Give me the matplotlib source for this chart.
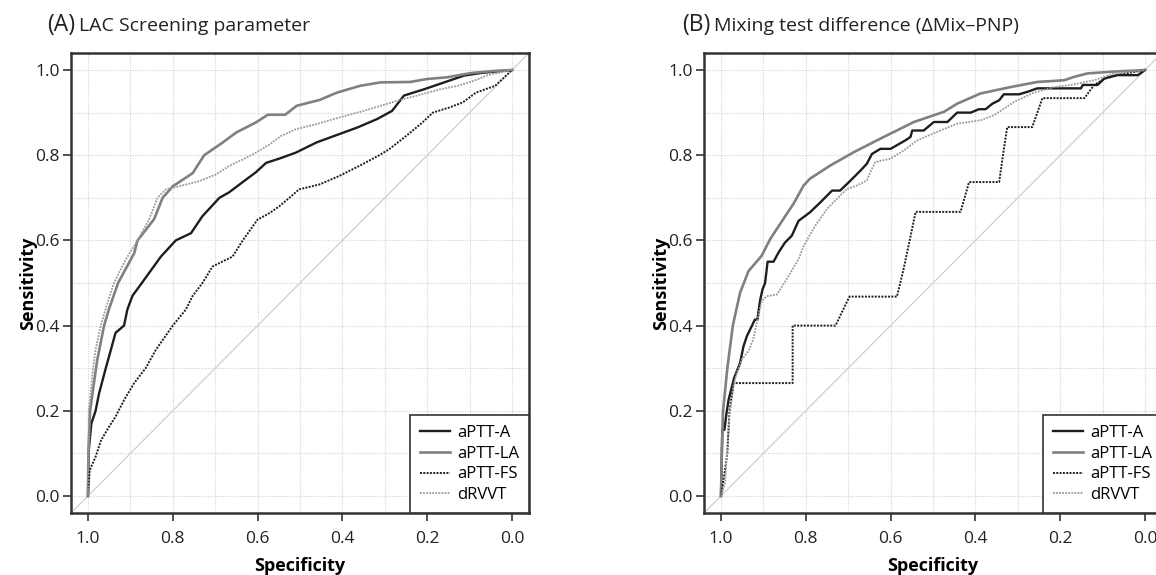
import numpy as np
import matplotlib
matplotlib.use("Agg")
import matplotlib.pyplot as plt

plt.rcParams["font.family"] = ["Open Sans", "DejaVu Sans"]

# ---------------------------------------------------------------------------
# ROC curves: (specificity, sensitivity)
# ---------------------------------------------------------------------------

# Panel A -- LAC screening parameter
a_aptt_a_spec = [1.0, 0.998, 0.992, 0.982, 0.974, 0.958, 0.946, 0.935, 0.915, 0.907, 0.895, 0.873,
                 0.828, 0.793, 0.757, 0.73, 0.69, 0.667, 0.635, 0.604, 0.58, 0.549, 0.51, 0.461,
                 0.42, 0.365, 0.318, 0.283, 0.255, 0.207, 0.16, 0.113, 0.074, 0.0]
a_aptt_a_sens = [0.0, 0.108, 0.17, 0.2, 0.24, 0.3, 0.343, 0.383, 0.4, 0.438, 0.47, 0.5,
                 0.562, 0.6, 0.617, 0.657, 0.7, 0.713, 0.737, 0.76, 0.782, 0.792, 0.806, 0.83,
                 0.845, 0.865, 0.885, 0.904, 0.94, 0.955, 0.971, 0.987, 0.993, 1.0]

a_aptt_la_spec = [1.0, 0.999, 0.995, 0.986, 0.978, 0.962, 0.95, 0.929, 0.891, 0.883, 0.844, 0.824,
                  0.80, 0.753, 0.726, 0.682, 0.651, 0.604, 0.576, 0.545, 0.535, 0.508, 0.453,
                  0.413, 0.358, 0.31, 0.24, 0.2, 0.153, 0.096, 0.04, 0.0]
a_aptt_la_sens = [0.0, 0.1, 0.2, 0.265, 0.32, 0.4, 0.44, 0.5, 0.57, 0.6, 0.65, 0.7,
                  0.727, 0.758, 0.8, 0.83, 0.853, 0.877, 0.895, 0.895, 0.895, 0.916, 0.93,
                  0.947, 0.963, 0.971, 0.972, 0.979, 0.983, 0.993, 0.998, 1.0]

a_aptt_fs_spec = [1.0, 0.996, 0.982, 0.969, 0.95, 0.935, 0.915, 0.891, 0.864, 0.84, 0.8, 0.769,
                  0.753, 0.73, 0.706, 0.659, 0.635, 0.6, 0.572, 0.549, 0.525, 0.502, 0.455,
                  0.408, 0.36, 0.313, 0.29, 0.25, 0.211, 0.187, 0.148, 0.116, 0.085, 0.04, 0.0]
a_aptt_fs_sens = [0.0, 0.06, 0.092, 0.131, 0.163, 0.186, 0.225, 0.265, 0.3, 0.343, 0.4, 0.438,
                  0.47, 0.5, 0.539, 0.562, 0.6, 0.649, 0.664, 0.68, 0.7, 0.72, 0.731,
                  0.751, 0.775, 0.8, 0.814, 0.845, 0.877, 0.9, 0.912, 0.924, 0.947, 0.963, 1.0]

a_drvvt_spec = [1.0, 0.998, 0.988, 0.982, 0.97, 0.954, 0.939, 0.911, 0.883, 0.856, 0.836, 0.816,
                0.785, 0.738, 0.698, 0.667, 0.635, 0.604, 0.572, 0.545, 0.51, 0.461, 0.406,
                0.35, 0.31, 0.271, 0.224, 0.168, 0.128, 0.089, 0.057, 0.0]
a_drvvt_sens = [0.0, 0.2, 0.3, 0.343, 0.4, 0.453, 0.5, 0.555, 0.6, 0.649, 0.7, 0.72,
                0.727, 0.739, 0.755, 0.775, 0.79, 0.806, 0.825, 0.845, 0.861, 0.873, 0.889,
                0.904, 0.916, 0.928, 0.94, 0.955, 0.963, 0.975, 0.988, 1.0]

# Panel B -- mixing test difference
b_aptt_a_spec = [1.0, 0.998, 0.997, 0.992, 0.987, 0.982, 0.969, 0.955, 0.947, 0.939, 0.920, 0.914,
                 0.908, 0.902, 0.896, 0.890, 0.876, 0.864, 0.849, 0.833, 0.817, 0.790, 0.766,
                 0.738, 0.719, 0.695, 0.671, 0.656, 0.644, 0.624, 0.600, 0.565, 0.553, 0.549,
                 0.522, 0.498, 0.466, 0.443, 0.411, 0.392, 0.376, 0.360, 0.344, 0.333, 0.297,
                 0.277, 0.254, 0.151, 0.147, 0.112, 0.096, 0.065, 0.017, 0.0]
b_aptt_a_sens = [0.0, 0.096, 0.155, 0.155, 0.194, 0.226, 0.277, 0.312, 0.351, 0.375, 0.414, 0.414,
                 0.458, 0.485, 0.5, 0.55, 0.55, 0.572, 0.595, 0.611, 0.646, 0.666, 0.689,
                 0.717, 0.717, 0.74, 0.764, 0.78, 0.803, 0.815, 0.815, 0.835, 0.843, 0.858,
                 0.858, 0.878, 0.878, 0.9, 0.9, 0.908, 0.908, 0.921, 0.929, 0.943, 0.943,
                 0.949, 0.957, 0.957, 0.965, 0.965, 0.98, 0.988, 0.988, 1.0]

b_aptt_la_spec = [1.0, 0.998, 0.995, 0.985, 0.972, 0.955, 0.935, 0.904, 0.884, 0.853, 0.829, 0.805,
                  0.79, 0.742, 0.687, 0.624, 0.545, 0.474, 0.443, 0.388, 0.317, 0.254, 0.191,
                  0.167, 0.136, 0.08, 0.0]
b_aptt_la_sens = [0.0, 0.1, 0.2, 0.3, 0.4, 0.477, 0.528, 0.564, 0.603, 0.65, 0.686, 0.729,
                  0.745, 0.776, 0.807, 0.839, 0.878, 0.902, 0.921, 0.945, 0.96, 0.972, 0.976,
                  0.984, 0.992, 0.996, 1.0]

b_aptt_fs_spec = [1.0, 0.995, 0.985, 0.98, 0.97, 0.831, 0.831, 0.73, 0.697, 0.585, 0.57, 0.555,
                  0.541, 0.435, 0.415, 0.344, 0.335, 0.325, 0.266, 0.242, 0.143, 0.12, 0.088, 0.0]
b_aptt_fs_sens = [0.0, 0.03, 0.1, 0.2, 0.265, 0.265, 0.4, 0.4, 0.468, 0.468, 0.53, 0.6,
                  0.667, 0.667, 0.737, 0.737, 0.8, 0.866, 0.866, 0.934, 0.934, 0.965, 0.984, 1.0]

b_drvvt_spec = [1.0, 0.99, 0.986, 0.979, 0.971, 0.963, 0.951, 0.935, 0.924, 0.912, 0.904, 0.892,
                0.868, 0.845, 0.817, 0.805, 0.778, 0.75, 0.727, 0.703, 0.679, 0.656, 0.648,
                0.636, 0.6, 0.569, 0.537, 0.49, 0.443, 0.388, 0.356, 0.309, 0.262, 0.214,
                0.175, 0.12, 0.073, 0.0]
b_drvvt_sens = [0.0, 0.03, 0.1, 0.194, 0.257, 0.289, 0.32, 0.34, 0.367, 0.422, 0.458, 0.469,
                0.473, 0.509, 0.556, 0.587, 0.634, 0.674, 0.697, 0.721, 0.729, 0.741, 0.76,
                0.784, 0.792, 0.811, 0.835, 0.855, 0.874, 0.882, 0.894, 0.925, 0.947, 0.96,
                0.965, 0.976, 0.992, 1.0]

labels = ["aPTT-A", "aPTT-LA", "aPTT-FS", "dRVVT"]
ticks = [1.0, 0.8, 0.6, 0.4, 0.2, 0.0]

STYLES = {
    "aPTT-A":  dict(color="#1e1e1e", lw=1.7, ls="-"),
    "aPTT-LA": dict(color="#808080", lw=1.9, ls="-"),
    "aPTT-FS": dict(color="#1e1e1e", lw=1.4, ls=(0, (1, 0.7))),
    "dRVVT":   dict(color="#9a9a9a", lw=1.3, ls=(0, (1, 0.7))),
}
SPINE = "#333333"

# ---------------------------------------------------------------------------
# Figure
# ---------------------------------------------------------------------------

W, H = 1156, 575
fig = plt.figure(figsize=(W / 100, H / 100), dpi=100)

ax_a = fig.add_axes([71 / W, (H - 513) / H, 458 / W, 460 / H])
ax_b = fig.add_axes([704 / W, (H - 513) / H, 458 / W, 460 / H])

panels = [
    (ax_a, [(a_aptt_a_spec, a_aptt_a_sens), (a_aptt_la_spec, a_aptt_la_sens),
            (a_aptt_fs_spec, a_aptt_fs_sens), (a_drvvt_spec, a_drvvt_sens)]),
    (ax_b, [(b_aptt_a_spec, b_aptt_a_sens), (b_aptt_la_spec, b_aptt_la_sens),
            (b_aptt_fs_spec, b_aptt_fs_sens), (b_drvvt_spec, b_drvvt_sens)]),
]

for ax, curves in panels:
    ax.set_xlim(1.04, -0.04)
    ax.set_ylim(-0.04, 1.04)

    # dotted grid every 0.1, chance diagonal
    for v in np.arange(0, 1.01, 0.1):
        ax.axvline(v, color="#d4d4d4", lw=0.8, ls=(0, (1, 1.2)), zorder=0)
        ax.axhline(v, color="#d4d4d4", lw=0.8, ls=(0, (1, 1.2)), zorder=0)
    ax.plot([1.1, -0.1], [-0.1, 1.1], color="#cfcfcf", lw=0.9, zorder=1)

    for name, (sp, se) in zip(labels, curves):
        ax.plot(sp, se, label=name, zorder=3, **STYLES[name])

    ax.set_xticks(ticks)
    ax.set_xticklabels([f"{t:.1f}" for t in ticks])
    ax.set_yticks(ticks)
    ax.set_yticklabels([f"{t:.1f}" for t in ticks])
    ax.tick_params(direction="out", length=6, width=1.2, color=SPINE,
                   labelsize=12.5, labelcolor="#222222", pad=2)
    ax.tick_params(axis="x", pad=7)
    for s in ax.spines.values():
        s.set_color(SPINE)
        s.set_linewidth(1.8)

    ax.set_xlabel("Specificity", fontsize=13, fontweight="bold", labelpad=7)
    ax.set_ylabel("Sensitivity", fontsize=13, fontweight="bold", labelpad=-1)

    leg = ax.legend(loc="lower right", borderaxespad=0, fancybox=False,
                    framealpha=1, edgecolor=SPINE, fontsize=12,
                    handlelength=1.8, handletextpad=0.4, labelspacing=0.28,
                    borderpad=0.6)
    leg.get_frame().set_linewidth(1.2)

# Panel titles: bigger letter tag, then the description
fig.canvas.draw()
renderer = fig.canvas.get_renderer()
for x0, tag, desc in [(47, "(A)", "LAC Screening parameter"),
                      (682, "(B)", "Mixing test difference (ΔMix\u2013PNP)")]:
    t = fig.text(x0 / W, (H - 31) / H, tag, fontsize=16.5, color="#222222")
    bb = t.get_window_extent(renderer)
    fig.text((bb.x1 + 4) / W, (H - 31) / H, desc, fontsize=14, color="#222222")

fig.savefig("out.png", dpi=100)
